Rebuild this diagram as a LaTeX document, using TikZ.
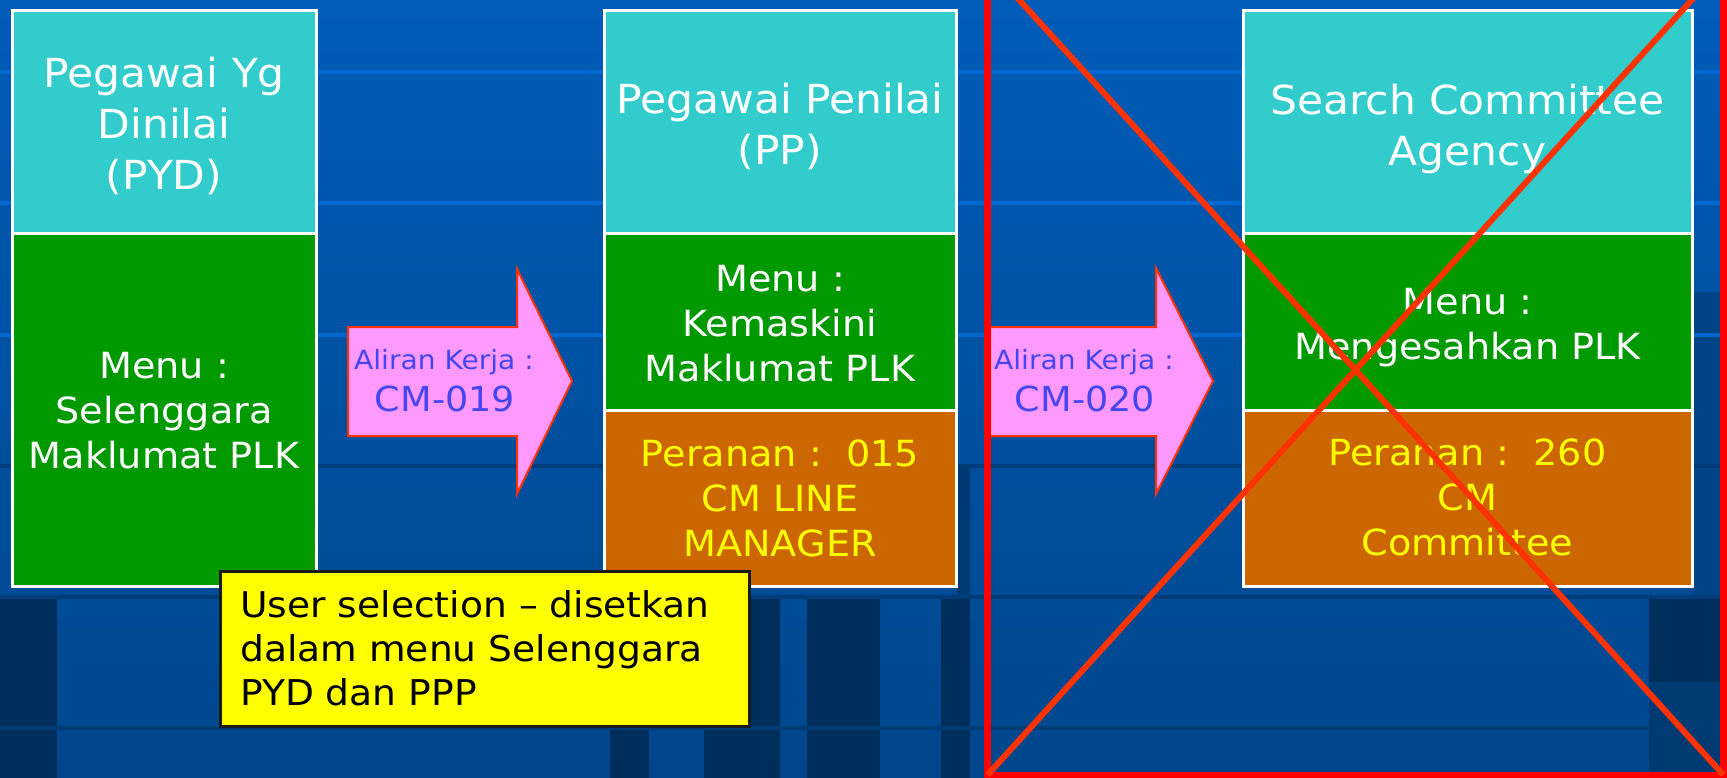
\documentclass[tikz,border=0pt]{standalone}
\usepackage{fontspec}
\setmainfont[FakeStretch=1.06]{DejaVu Sans}
\definecolor{bgtop}{RGB}{0,92,184}
\definecolor{bgbot}{RGB}{0,70,140}
\definecolor{darkblk}{RGB}{0,46,92}
\definecolor{midblk}{RGB}{0,58,114}
\definecolor{softblk}{RGB}{0,68,134}
\definecolor{lightln}{RGB}{0,104,208}
\definecolor{darkln}{RGB}{0,60,120}
\definecolor{cyanc}{RGB}{51,204,204}
\definecolor{greenc}{RGB}{0,153,0}
\definecolor{orangec}{RGB}{204,102,0}
\definecolor{yelc}{RGB}{255,255,0}
\definecolor{pinkc}{RGB}{255,153,255}
\definecolor{arrred}{RGB}{255,51,0}
\definecolor{arrtxt}{RGB}{70,70,240}
\definecolor{notebd}{RGB}{26,26,26}
\definecolor{xred}{RGB}{255,0,0}
\definecolor{xdiagc}{RGB}{255,51,0}
\begin{document}
\begin{tikzpicture}[x=1pt,y=-1pt,
  cell/.style={draw=white,line width=3pt},
  ttl/.style={text=white,align=center,inner sep=0pt,font=\fontsize{40}{51}\selectfont},
  wtxt/.style={text=white,align=center,inner sep=0pt,font=\fontsize{36}{45}\selectfont},
  ytxt/.style={text=yelc,align=center,inner sep=0pt,font=\fontsize{36}{45}\selectfont},
  arr/.style={fill=pinkc,draw=arrred,line width=2pt,line join=miter},
  asmall/.style={text=arrtxt,anchor=base,inner sep=0pt,font=\fontsize{26.5}{30}\selectfont},
  abig/.style={text=arrtxt,anchor=base,inner sep=0pt,font=\fontsize{34.5}{40}\selectfont},
  xrect/.style={draw=xred,line width=7pt},
  xdiag/.style={draw=xdiagc,line width=6pt}]
\useasboundingbox (0,0) rectangle (1727,778);
% background
\shade[top color=bgtop,bottom color=bgbot] (0,0) rectangle (1727,778);
\fill[darkblk] (0,597) rectangle (57,778);
\fill[darkblk] (610,597) rectangle (649,778);
\fill[darkblk] (704,597) rectangle (780,778);
\fill[darkblk] (807,597) rectangle (880,778);
\fill[darkblk] (941,597) rectangle (970,778);
\fill[midblk] (957,466) rectangle (970,597);
\fill[softblk] (1694,292) rectangle (1720,597);
\fill[darkblk] (1649,597) rectangle (1720,682);
\fill[midblk] (1649,682) rectangle (1720,778);
\foreach \yy in {72,203,335} \fill[lightln] (0,\yy-2) rectangle (1727,\yy+2);
\foreach \yy in {466,597,728} \fill[darkln] (0,\yy-2) rectangle (1727,\yy+2);
% column 1
\filldraw[cell,fill=cyanc] (12,11) rectangle (316,234);
\filldraw[cell,fill=greenc] (12,234) rectangle (316,586);
\node[ttl] (t1) at (164,126) {Pegawai Yg\\Dinilai\\(PYD)};
\node[wtxt] (m1) at (164,411) {Menu :\\Selenggara\\Maklumat PLK};
% column 2
\filldraw[cell,fill=cyanc] (604,11) rectangle (956,234);
\filldraw[cell,fill=greenc] (604,234) rectangle (956,410);
\filldraw[cell,fill=orangec] (604,410) rectangle (956,586);
\node[ttl] (t2) at (780,126.5) {Pegawai Penilai\\(PP)};
\node[wtxt] (m2) at (780,324) {Menu :\\Kemaskini\\Maklumat PLK};
\node[ytxt] (r2) at (780,498) {Peranan :\ \ 015\\CM LINE\\MANAGER};
% column 3
\filldraw[cell,fill=cyanc] (1243,11) rectangle (1692,234);
\filldraw[cell,fill=greenc] (1243,234) rectangle (1692,410);
\filldraw[cell,fill=orangec] (1243,410) rectangle (1692,586);
\node[ttl] (t3) at (1467.5,128.5) {Search Committee\\Agency};
\node[wtxt] (m3) at (1467.5,327.5) {Menu :\\Mengesahkan PLK};
\node[ytxt] (r3) at (1467.5,497.5) {Peranan :\ \ 260\\CM\\Committee};
% arrows
\filldraw[arr] (348,327) -- (517,327) -- (517,269) -- (572,381) -- (517,494) -- (517,436) -- (348,436) -- cycle;
\node[asmall] (a1a) at (444,369) {Aliran Kerja :};
\node[abig] (a1b) at (445,411) {CM-019};
\filldraw[arr] (990,327) -- (1156,327) -- (1156,268) -- (1213,381) -- (1156,494) -- (1156,436) -- (990,436) -- cycle;
\node[asmall] (a2a) at (1084,369) {Aliran Kerja :};
\node[abig] (a2b) at (1085,411) {CM-020};
% note
\filldraw[fill=yelc,draw=notebd,line width=3pt] (220,571) rectangle (749,726);
\node[anchor=west,align=left,inner sep=0pt,text=black,font=\fontsize{35.5}{44}\selectfont] (nt) at (240,648) {User selection – disetkan\\dalam menu Selenggara\\PYD dan PPP};
% red cross
\draw[xrect] (987.5,-35) rectangle (1723.5,775);
\draw[xdiag] (987.5,-35) -- (1723.5,775);
\draw[xdiag] (987.5,775) -- (1723.5,-35);
\end{tikzpicture}
\end{document}
